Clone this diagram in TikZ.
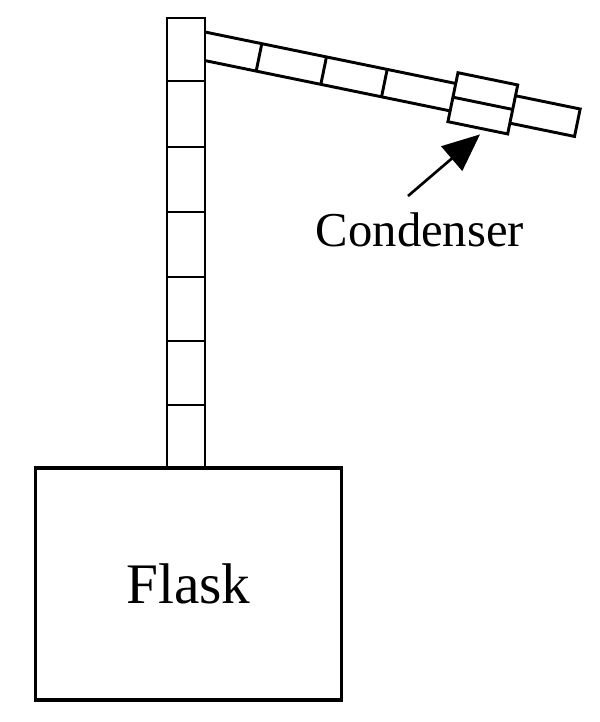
\documentclass[tikz,border=0pt]{standalone}
\usepackage{fontspec}
\setmainfont{Liberation Serif}
\usetikzlibrary{arrows.meta}
\begin{document}
\begin{tikzpicture}[x=0.75pt,y=-0.75pt,line width=2.2pt,line join=miter,
  seg/.style={draw,line width=2.2pt}]
\useasboundingbox (0,0) rectangle (600,722);
% flask
\node[draw,line width=2.4pt,minimum width=306*0.75pt,minimum height=232*0.75pt,inner sep=0pt,
  font=\fontsize{43}{48}\selectfont] (flask) at (188.5,584) {Flask};
% column
\foreach \a/\b [count=\i] in {18/81,81/147,147/212,212/277,277/341,341/405,405/468}
  \draw (167,\a) rectangle (205,\b);
% condenser tube
\begin{scope}[shift={(205,32)},rotate=-11.6]
  \draw (0,0) -- (256,0) (5.7,28) -- (256,28);
  \draw (317,0) -- (383,0) -- (383,28) -- (317,28);
  \foreach \t in {58,124,186} \draw (\t,0) -- (\t,28);
  \draw (256,-11) rectangle (317,39);
  \draw (256,14) -- (317,14);
  \coordinate (tip) at (290,45);
\end{scope}
\node[font=\fontsize{36.5}{40}\selectfont] (cond) at (420,230) {Condenser};
\draw[-{Triangle[length=28pt,width=24pt]},line width=2pt] (408,196) -- (tip);
\end{tikzpicture}
\end{document}
